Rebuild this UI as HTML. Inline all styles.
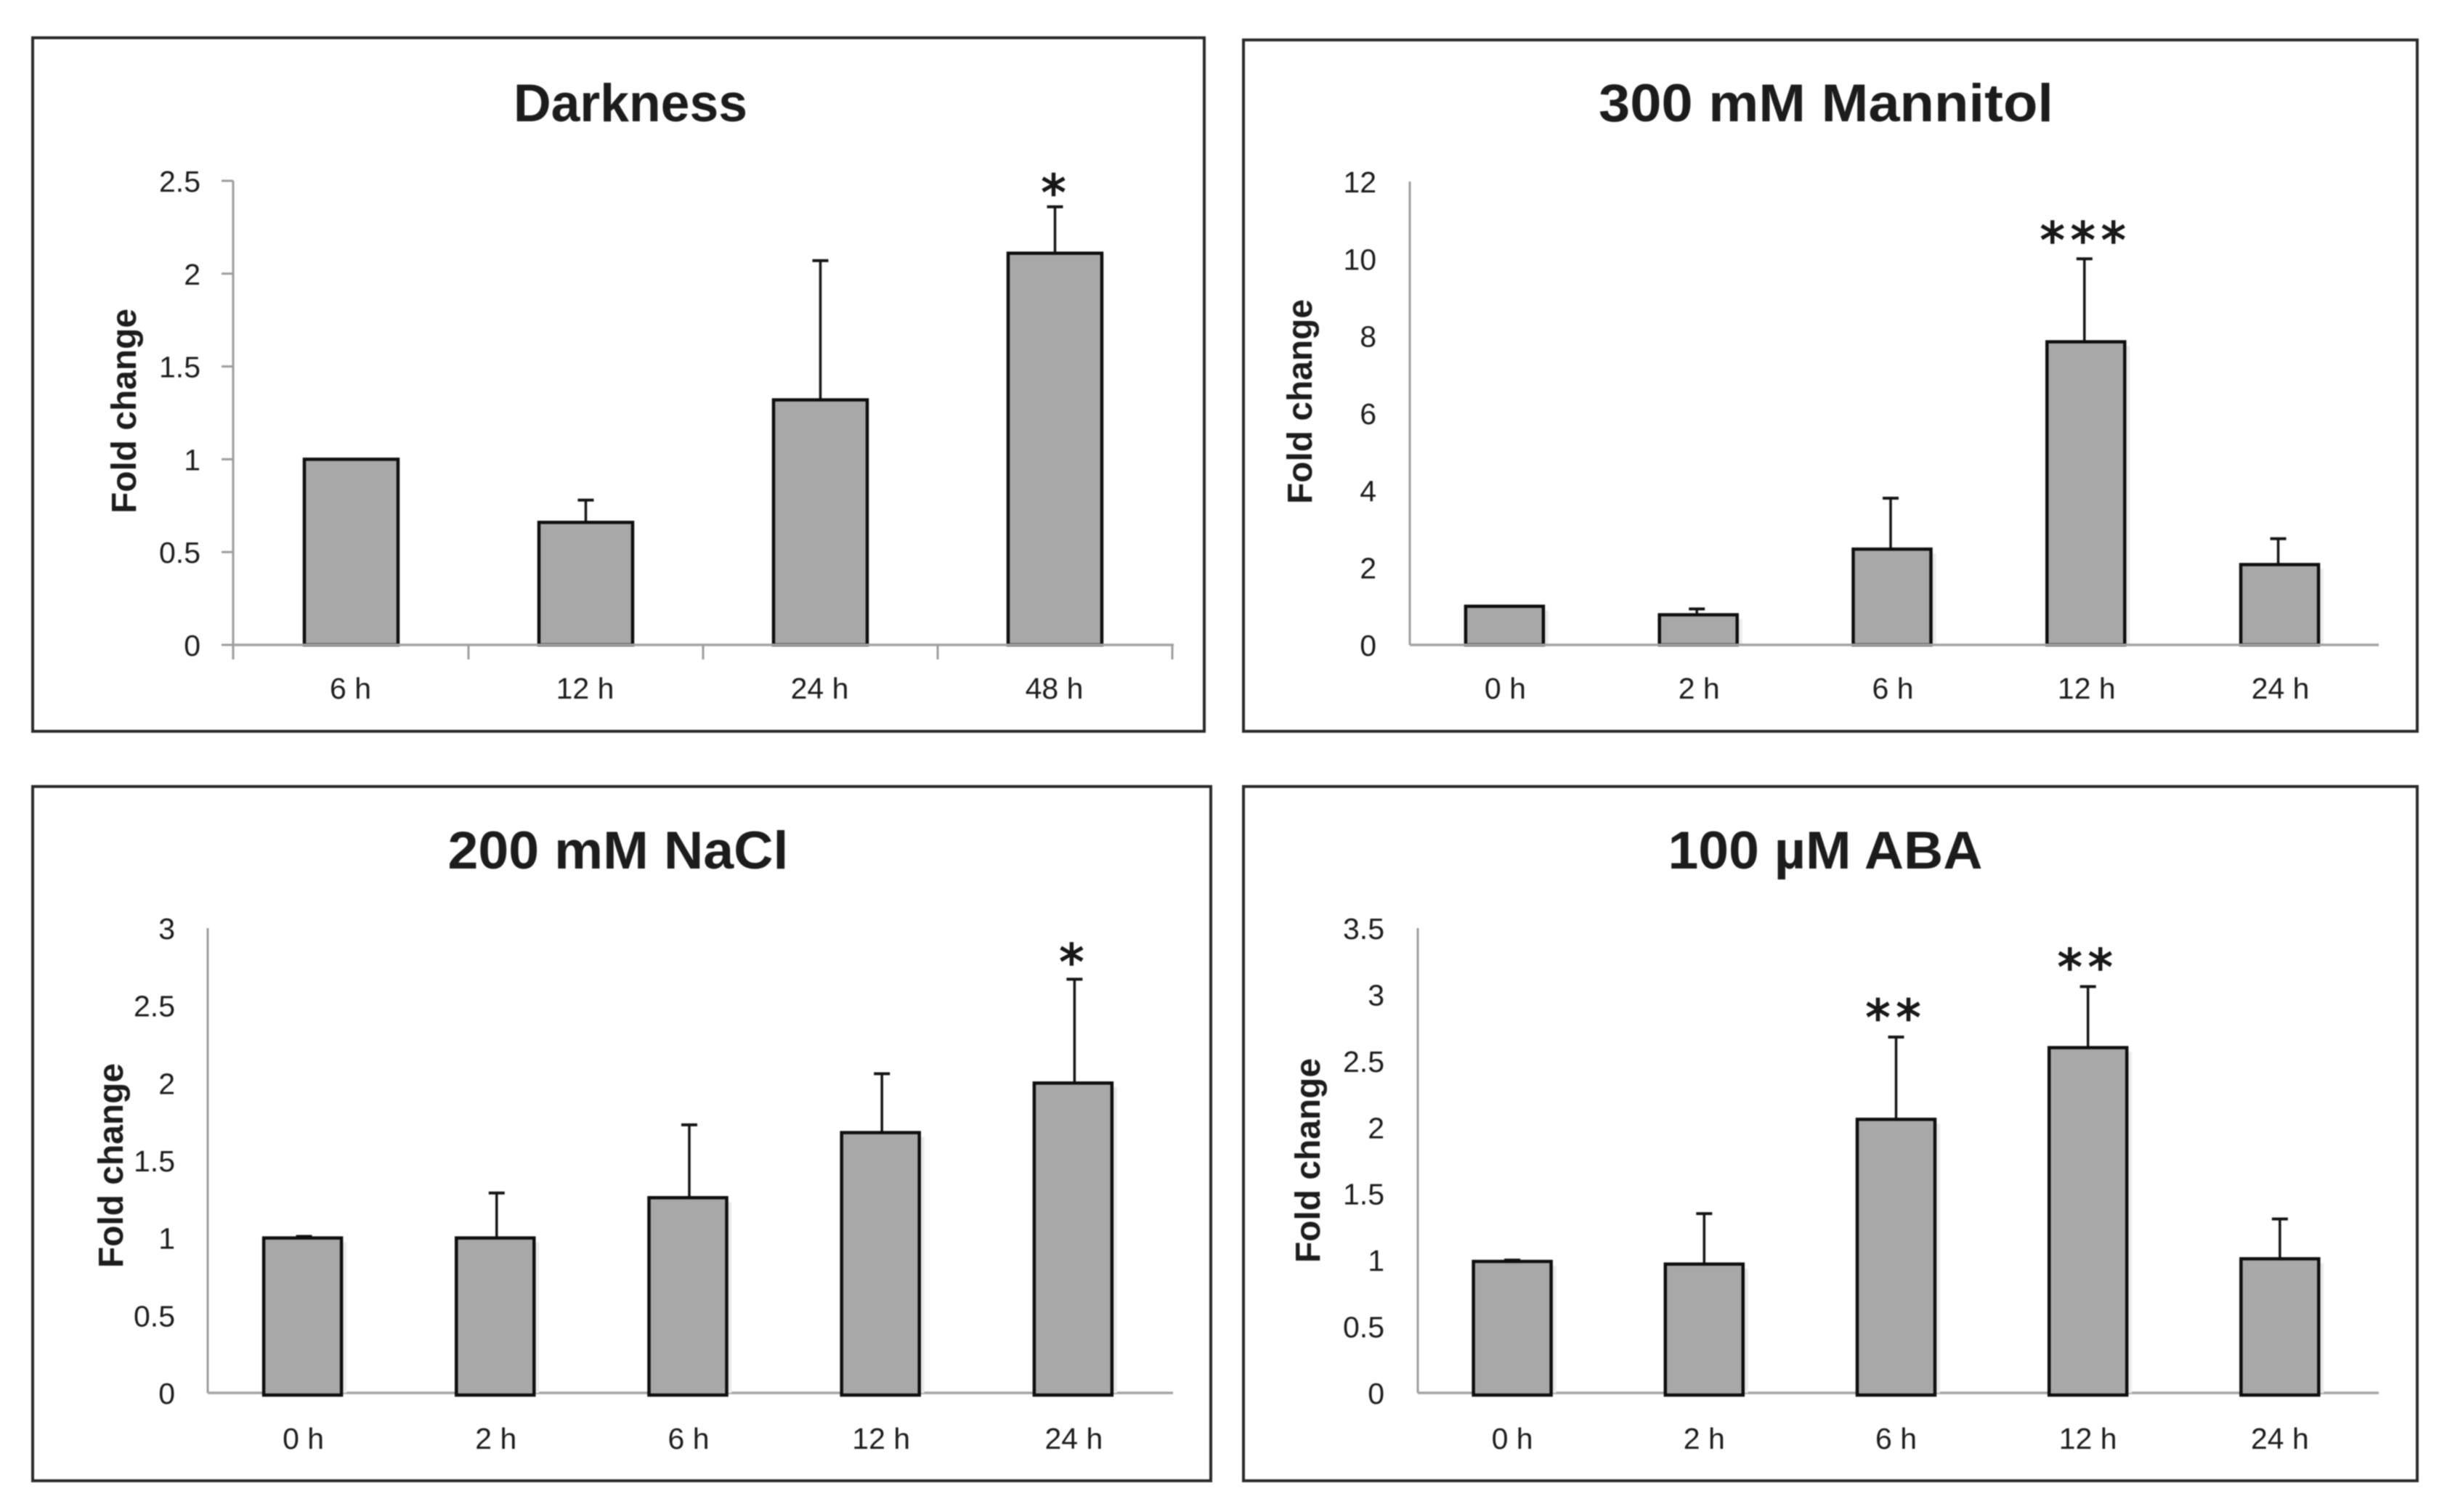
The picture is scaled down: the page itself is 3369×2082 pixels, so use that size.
<!DOCTYPE html>
<html lang="en">
<head>
<meta charset="utf-8">
<title>Fold change under stress treatments</title>
<style>
html,body{margin:0;padding:0;background:#fff;width:3369px;height:2082px;overflow:hidden}
svg{display:block;filter:blur(.8px)}
text{font-family:"Liberation Sans",sans-serif;fill:#1c1c1c}
</style>
</head>
<body>
<svg id="figure" xmlns="http://www.w3.org/2000/svg" width="3369" height="2082" viewBox="0 0 3369 2082">
<rect x="0" y="0" width="3369" height="2082" fill="#ffffff"/>
</svg>
<script>
// Chart data
const darknessCategories = ['6 h', '12 h', '24 h', '48 h'];
const darknessValues = [1, 0.66, 1.32, 2.11];
const darknessErrors = [0, 0.12, 0.75, 0.25];
const darknessStars = ['', '', '', '*'];
const darknessTicks = [0, 0.5, 1, 1.5, 2, 2.5];

const mannitolCategories = ['0 h', '2 h', '6 h', '12 h', '24 h'];
const mannitolValues = [1, 0.78, 2.48, 7.85, 2.08];
const mannitolErrors = [0, 0.15, 1.32, 2.15, 0.67];
const mannitolStars = ['', '', '', '***', ''];
const mannitolTicks = [0, 2, 4, 6, 8, 10, 12];

const naclCategories = ['0 h', '2 h', '6 h', '12 h', '24 h'];
const naclValues = [1, 1, 1.26, 1.68, 2];
const naclErrors = [0.01, 0.29, 0.47, 0.38, 0.67];
const naclStars = ['', '', '', '', '*'];
const naclTicks = [0, 0.5, 1, 1.5, 2, 2.5, 3];

const abaCategories = ['0 h', '2 h', '6 h', '12 h', '24 h'];
const abaValues = [0.99, 0.97, 2.06, 2.6, 1.01];
const abaErrors = [0.01, 0.38, 0.62, 0.46, 0.3];
const abaStars = ['', '', '**', '**', ''];
const abaTicks = [0, 0.5, 1, 1.5, 2, 2.5, 3, 3.5];

const NS = 'http://www.w3.org/2000/svg';
const svg = document.getElementById('figure');

function mk(parent, tag, attrs, text) {
  const el = document.createElementNS(NS, tag);
  for (const k in attrs) el.setAttribute(k, attrs[k]);
  if (text !== undefined) el.textContent = text;
  parent.appendChild(el);
  return el;
}

function drawPanel(p) {
  const yMax = p.ticks[p.ticks.length - 1];
  const yScale = v => p.y0 - (v / yMax) * (p.y0 - p.yTop);
  const xScale = i => p.bandStart + p.band * (i + 0.5);
  const slug = p.slug;

  const g = mk(svg, 'g', {});
  
  

  const frame = mk(g, 'rect', {x: p.l, y: p.t, width: p.r - p.l, height: p.b - p.t, fill: '#fff', stroke: '#2a2a2a', 'stroke-width': 4});
  
  

  const title = mk(g, 'text', {x: p.titleX, y: p.titleY, 'text-anchor': 'middle', 'font-size': 73, 'font-weight': 'bold', fill: '#0a0a0a', textLength: p.titleW, lengthAdjust: 'spacingAndGlyphs'}, p.title);
  
  

  const yTitle = mk(g, 'text', {transform: 'translate(' + p.foldX + ',' + p.foldY + ') rotate(-90)', 'text-anchor': 'middle', 'font-size': 48, 'font-weight': 'bold', fill: '#0a0a0a', textLength: 282, lengthAdjust: 'spacingAndGlyphs'}, 'Fold change');
  
  

  function drawAxes() {
    const yAxis = mk(g, 'line', {x1: p.axisX, x2: p.axisX, y1: p.yTop, y2: p.y0 + (p.xTicks ? 20 : 0), stroke: '#9c9c9c', 'stroke-width': 3});
    
    
    const xAxis = mk(g, 'line', {x1: p.axisX, x2: p.axisRight, y1: p.y0, y2: p.y0, stroke: '#a4a4a4', 'stroke-width': 3.5});
    
    
    if (p.xTicks) {
      for (let i = 1; i <= p.categories.length; i++) {
        const tx = p.bandStart + p.band * i;
        const tick = mk(g, 'line', {x1: tx, x2: tx, y1: p.y0, y2: p.y0 + 20, stroke: '#9c9c9c', 'stroke-width': 3});
        
        
      }
    }
  }
  if (p.baseDrop) drawAxes();

  p.ticks.forEach(function (t) {
    const y = yScale(t);
    const label = mk(g, 'text', {x: p.labelRight, y: y + 15, 'text-anchor': 'end', 'font-size': 41}, String(t));
    
    
    if (p.yTickMarks) {
      const mark = mk(g, 'line', {x1: p.axisX - 16, x2: p.axisX, y1: y, y2: y, stroke: '#9c9c9c', 'stroke-width': 3});
      
      
    }
  });

  p.categories.forEach(function (c, i) {
    const cx = xScale(i);
    const top = yScale(p.values[i]);
    const bottom = p.y0 + p.baseDrop;

    if (p.shadow) {
      const shadow = mk(g, 'rect', {x: cx + p.barW / 2, y: top + 6, width: 7, height: p.y0 - top - 6, fill: '#ececec'});
      
      
    }

    const err = p.errors[i];
    if (err > 0) {
      const errTop = yScale(p.values[i] + err);
      const stem = mk(g, 'line', {x1: cx + p.errShift, x2: cx + p.errShift, y1: top, y2: errTop, stroke: '#141414', 'stroke-width': 3.5});
      
      
      const cap = mk(g, 'line', {x1: cx + p.errShift - 11, x2: cx + p.errShift + 11, y1: errTop, y2: errTop, stroke: '#141414', 'stroke-width': 4});
      
      
    }

    const bar = mk(g, 'rect', {x: cx - p.barW / 2, y: top, width: p.barW, height: bottom - top, fill: '#a8a8a8', stroke: '#0e0e0e', 'stroke-width': 4.5});
    
    

    const label = mk(g, 'text', {x: cx + p.labelShift, y: p.xLabelY, 'text-anchor': 'middle', 'font-size': 41}, c);
    
    

    if (p.stars[i]) {
      const errTop = yScale(p.values[i] + err);
      const star = mk(g, 'text', {x: cx + p.starShift, y: errTop - p.starGap, 'text-anchor': 'middle', 'font-size': 68, 'letter-spacing': 8, style: 'font-family:"DejaVu Sans",sans-serif;stroke:#111;stroke-width:1.6', fill: '#111'}, p.stars[i]);
      
      
    }
  });

  if (!p.baseDrop) drawAxes();
}

drawPanel({slug: 'darkness', title: 'Darkness', categories: darknessCategories, values: darknessValues, errors: darknessErrors, stars: darknessStars, ticks: darknessTicks,
  l: 45, r: 1658, t: 52, b: 1007, titleX: 868, titleY: 167, titleW: 322, foldX: 187, foldY: 566,
  axisX: 321, axisRight: 1616, yTop: 249, y0: 888, bandStart: 322, band: 323, barW: 129, labelRight: 276, xLabelY: 962, labelShift: -1, errShift: 0, baseDrop: 0, xTicks: true, yTickMarks: true, shadow: false, starGap: -4, starShift: 2});

drawPanel({slug: 'mannitol', title: '300 mM Mannitol', categories: mannitolCategories, values: mannitolValues, errors: mannitolErrors, stars: mannitolStars, ticks: mannitolTicks,
  l: 1712, r: 3328, t: 55, b: 1007, titleX: 2514, titleY: 167, titleW: 626, foldX: 1806, foldY: 553,
  axisX: 1941, axisRight: 3275, yTop: 250, y0: 888, bandStart: 1938, band: 266.8, barW: 107, labelRight: 1895, xLabelY: 962, labelShift: 1, errShift: -2, baseDrop: 0, xTicks: false, yTickMarks: false, shadow: true, starGap: 2, starShift: 0});

drawPanel({slug: 'nacl', title: '200 mM NaCl', categories: naclCategories, values: naclValues, errors: naclErrors, stars: naclStars, ticks: naclTicks,
  l: 45, r: 1667, t: 1083, b: 2039, titleX: 851, titleY: 1196, titleW: 469, foldX: 169, foldY: 1605,
  axisX: 286, axisRight: 1615, yTop: 1278, y0: 1918, bandStart: 284, band: 265.2, barW: 107, labelRight: 241, xLabelY: 1995, labelShift: 1, errShift: 2, baseDrop: 3, xTicks: false, yTickMarks: false, shadow: true, starGap: 0, starShift: 2});

drawPanel({slug: 'aba', title: '100 µM ABA', categories: abaCategories, values: abaValues, errors: abaErrors, stars: abaStars, ticks: abaTicks,
  l: 1712, r: 3328, t: 1083, b: 2039, titleX: 2513, titleY: 1196, titleW: 433, foldX: 1817, foldY: 1598,
  axisX: 1952, axisRight: 3275, yTop: 1278, y0: 1918, bandStart: 1950, band: 264.2, barW: 107, labelRight: 1906, xLabelY: 1995, labelShift: 0, errShift: 0, baseDrop: 3, xTicks: false, yTickMarks: false, shadow: true, starGap: 3, starShift: 0});
</script>
</body>
</html>
